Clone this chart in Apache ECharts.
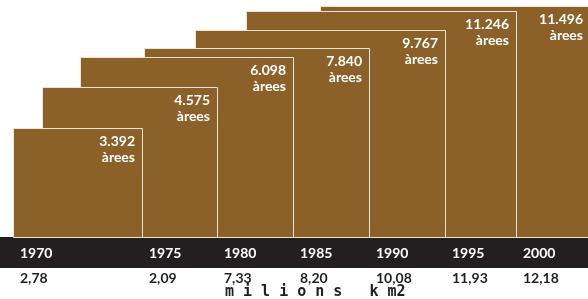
<!DOCTYPE html>
<html>
<head>
  <meta charset="UTF-8">
  <script src="https://cdn.jsdelivr.net/npm/echarts@6/dist/echarts.min.js"></script>
  <style>
    html, body, #main { margin: 0; padding: 0; width: 588px; height: 299px; background: #fff; }
  </style>
</head>
<body>
  <div id="main"></div>
  <script>
    // dades
    const years = ['1970', '1975', '1980', '1985', '1990', '1995', '2000'];
    const areaCounts = ['3.392', '4.575', '6.098', '7.840', '9.767', '11.246', '11.496'];
    const km2 = ['2,78', '2,09', '7,33', '8,20', '10,08', '11,93', '12,18'];
    // extensio de cada rectangle llegida del grafic (unitats de l'eix x i l'eix y)
    const rectStart = [13, 42, 80, 144, 195, 246, 320];
    const rectEnd = [142, 217, 293, 369, 445, 516, 590];
    const rectHeight = [109, 150, 180, 189, 207, 226, 231];
    // inici de cada columna de la franja inferior
    const colStart = [13, 142, 217, 293, 369, 445, 516];

    const BROWN = '#8c6129';
    const DARK = '#231f20';
    const FONT = 'Lato';

    const chart = echarts.init(document.getElementById('main'));

    // els rectangles antics queden per sobre: es dibuixen de l'ultim al primer
    const rectData = years.map((y, i) => [rectStart[i], rectEnd[i], rectHeight[i], i]).reverse();
    const colData = years.map((y, i) => [colStart[i], 0, i]);

    chart.setOption({
      animation: false,
      grid: { left: 0, right: 0, top: 0, bottom: 62 },
      xAxis: { type: 'value', min: 0, max: 588, show: false },
      yAxis: { type: 'value', min: 0, max: 237, show: false },
      graphic: [
        { type: 'rect', left: 0, top: 237, shape: { width: 588, height: 31 }, style: { fill: DARK }, z: 0 },
        {
          type: 'text', left: 225, top: 285,
          style: { text: 'm i l i o n s   k m2', font: 'bold 15px "DejaVu Sans Mono"', fill: DARK }
        }
      ],
      series: [
        {
          type: 'custom',
          data: rectData,
          renderItem: (params, api) => {
            const p0 = api.coord([api.value(0), api.value(2)]);
            const p1 = api.coord([api.value(1), 0]);
            const i = api.value(3);
            return {
              type: 'group',
              children: [
                {
                  type: 'rect',
                  shape: { x: p0[0] + 0.5, y: p0[1] + 0.5, width: p1[0] - p0[0], height: p1[1] - p0[1] },
                  style: { fill: BROWN, stroke: '#efe4d2', lineWidth: 1 }
                },
                {
                  type: 'text',
                  x: p1[0] - 7, y: p0[1] + 5,
                  style: {
                    text: areaCounts[i] + '\nàrees',
                    font: 'bold 14px ' + FONT,
                    lineHeight: 16,
                    fill: '#fff',
                    align: 'right',
                    verticalAlign: 'top'
                  }
                }
              ]
            };
          }
        },
        {
          type: 'custom',
          data: colData,
          renderItem: (params, api) => {
            const p = api.coord([api.value(0), 0]);
            const i = api.value(2);
            return {
              type: 'group',
              children: [
                {
                  type: 'text', x: p[0] + 7, y: p[1] + 16,
                  style: { text: years[i], font: 'bold 14px ' + FONT, fill: '#fff', verticalAlign: 'middle' }
                },
                {
                  type: 'text', x: p[0] + 7, y: p[1] + 41,
                  style: { text: km2[i], font: 'bold 14px ' + FONT, fill: DARK, verticalAlign: 'middle' }
                }
              ]
            };
          }
        }
      ]
    });
  </script>
</body>
</html>
